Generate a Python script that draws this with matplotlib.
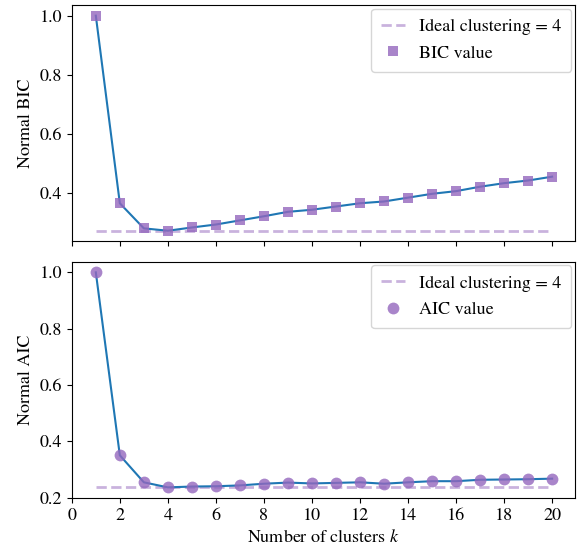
import matplotlib
matplotlib.use("Agg")
import matplotlib.pyplot as plt

plt.rcParams["font.family"] = ["STIXGeneral", "DejaVu Serif"]
plt.rcParams["mathtext.fontset"] = "stix"
plt.rcParams["font.size"] = 13

k = list(range(1, 21))
bic = [1.000, 0.365, 0.280, 0.272, 0.283, 0.293, 0.307, 0.321, 0.336, 0.343,
       0.354, 0.365, 0.371, 0.384, 0.397, 0.406, 0.421, 0.433, 0.442, 0.455]
aic = [1.000, 0.350, 0.254, 0.236, 0.239, 0.240, 0.243, 0.249, 0.253, 0.250,
       0.252, 0.254, 0.249, 0.254, 0.258, 0.258, 0.263, 0.264, 0.265, 0.267]
ideal_k = 4

fig, (ax1, ax2) = plt.subplots(2, 1, sharex=True, figsize=(5.79, 5.48), dpi=100)
fig.subplots_adjust(left=0.124, right=0.993, top=0.991, bottom=0.091, hspace=0.085)

for ax, vals, marker, ms, name in [(ax1, bic, "s", 7.5, "BIC"), (ax2, aic, "o", 8.5, "AIC")]:
    ideal = vals[k.index(ideal_k)]
    ax.hlines(ideal, k[0], k[-1], colors="tab:purple", alpha=0.5, linestyles="--",
              linewidth=2, label=f"Ideal clustering = {ideal_k}")
    ax.plot(k, vals, color="tab:blue", linewidth=1.5)
    ax.plot(k, vals, linestyle="none", marker=marker, markersize=ms, markeredgewidth=0,
            color="tab:purple", alpha=0.8, label=f"{name} value")
    ax.set_ylabel(f"Normal {name}")
    ax.legend(loc="upper right", borderaxespad=0.2, handlelength=1.3,
              borderpad=0.55, labelspacing=0.55)

ax2.set_xticks(range(0, 21, 2))
ax2.set_yticks([0.2, 0.4, 0.6, 0.8, 1.0])
ax2.set_xlabel("Number of clusters $k$")

fig.savefig("out.png", dpi=100)
